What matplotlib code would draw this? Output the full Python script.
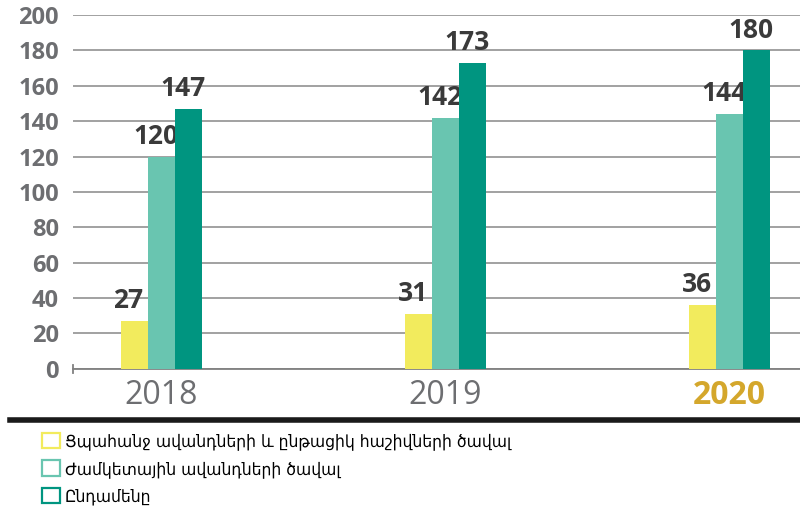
import matplotlib.pyplot as plt
from matplotlib.patches import Patch
from matplotlib.lines import Line2D
import numpy as np

years = ['2018', '2019', '2020']
demand = [27, 31, 36]
term = [120, 142, 144]
total = [147, 173, 180]
series_names = ['Ցպահանջ ավանդների և ընթացիկ հաշիվների ծավալ',
                'Ժամկետային ավանդների ծավալ',
                'Ընդամենը']
colors = ['#f2eb5d', '#69c5b0', '#009580']

fig = plt.figure(figsize=(8, 5.21), dpi=100)
ax = fig.add_axes([0.091, 0.292, 0.909, 0.679])

x = np.arange(len(years))
w = 0.096
for i, (vals, c) in enumerate(zip([demand, term, total], colors)):
    bars = ax.bar(x + (i - 1) * w, vals, w, color=c, zorder=3)
    for b, v in zip(bars, vals):
        ax.annotate(str(v), (b.get_x() + b.get_width() / 2, v),
                    xytext=(-4, 5), textcoords='offset points',
                    ha='center', va='bottom', fontsize=19, fontweight='bold',
                    color='#3a3a3a', family='Open Sans', clip_on=False)

ax.set_xlim(-0.312, 2.248)
ax.set_ylim(0, 200)
ax.set_yticks(range(0, 201, 20))
ax.grid(axis='y', color='#9a9a9a', linewidth=1.3, zorder=0)
for s in ['top', 'right', 'left']:
    ax.spines[s].set_visible(False)
ax.spines['bottom'].set_color('#808080')
ax.spines['bottom'].set_linewidth(1.3)
ax.tick_params(axis='y', length=0, pad=10, labelsize=17, labelcolor='#6d6e71')
ax.tick_params(axis='x', length=0, pad=7, labelsize=23, labelcolor='#6d6e71')
for lab in ax.get_yticklabels():
    lab.set_fontfamily('Open Sans')
    lab.set_fontweight('bold')
ax.set_xticks(x)
ax.set_xticklabels(years, family='Open Sans')
last = ax.get_xticklabels()[-1]
last.set_color('#d4a72c')
last.set_fontweight('bold')

# small mark at the start of the baseline
ax.axvline(ax.get_xlim()[0], ymin=-0.012, ymax=0.012, color='#808080',
           linewidth=1.3, clip_on=False)

fig.add_artist(Line2D([0.0125, 1.0], [0.194, 0.194], color='#1a1a1a', linewidth=4))

handles = [Patch(facecolor='none', edgecolor=c, linewidth=1.6) for c in colors]
fig.legend(handles, series_names, loc='upper left', bbox_to_anchor=(0.053, 0.170),
           frameon=False, handlelength=1.0, handleheight=1.0,
           handletextpad=0.3, labelspacing=0.55, borderaxespad=0, borderpad=0,
           prop={'family': 'DejaVu Sans', 'size': 12.5, 'stretch': 'condensed'})

fig.savefig('out.png', dpi=100)
